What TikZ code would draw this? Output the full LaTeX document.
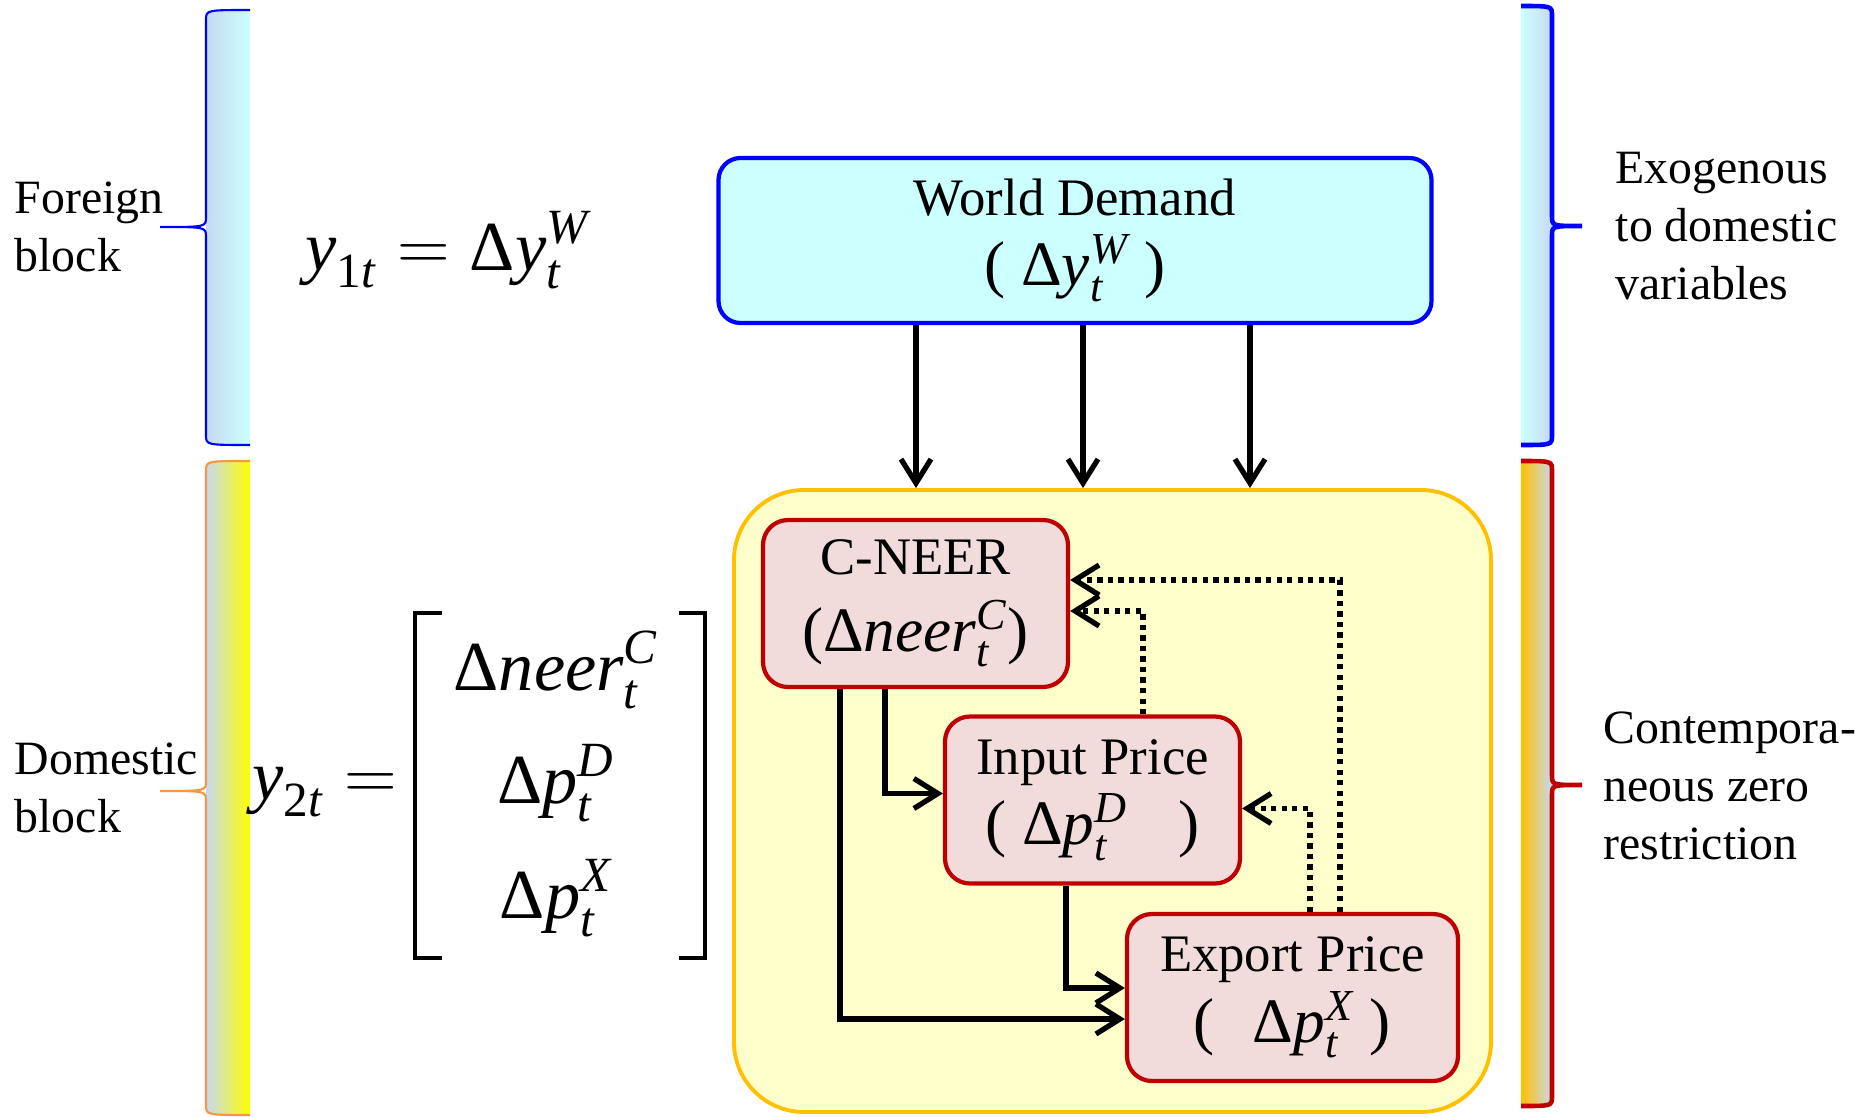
\documentclass[tikz,border=0pt]{standalone}
\usepackage{amsmath}
\usepackage{fontspec}
\setmainfont{Liberation Serif}
\usepackage{xcolor}
\usepackage{tikz}
\usetikzlibrary{arrows.meta}

\definecolor{wdcyan}{HTML}{CCFFFF}
\definecolor{domyellow}{HTML}{FFFFCC}
\definecolor{domorange}{HTML}{FFC000}
\definecolor{varpink}{HTML}{F2DCDB}
\definecolor{varred}{HTML}{C00000}
\definecolor{greyblue}{HTML}{C6D9F1}
\definecolor{braceorange}{HTML}{F79646}

\newcommand{\boxfont}{\fontsize{15}{20}\selectfont}
\newcommand{\mathbig}{\fontsize{18}{20}\selectfont}
\newcommand{\sidefont}{\fontsize{13.6}{16.5}\selectfont}
\newcommand{\eqfont}{\fontsize{20}{25}\selectfont}
\newcommand{\dlt}{\text{Δ}}
\newcommand{\itv}[1]{\textit{#1}}

% strip with a brace along it: xr, xline, xtip, top, tip, bottom, shading, pen
\newcommand{\sidebrace}[8]{%
  \shade[#7] (#1,#4) .. controls (#2,#4) .. (#2,#4-0.1) -- (#2,#6+0.1)
    .. controls (#2,#6) .. (#1,#6) -- cycle;
  \draw[#8] (#1,#4) .. controls (#2,#4) .. (#2,#4-0.1) -- (#2,#5+0.1)
    .. controls (#2,#5) .. (#3,#5) .. controls (#2,#5) .. (#2,#5-0.1)
    -- (#2,#6+0.1) .. controls (#2,#6) .. (#1,#6);
}

\begin{document}
\begin{tikzpicture}[
    wdbox/.style = {draw=blue, line width=1.2pt, fill=wdcyan, rounded corners=0.22cm,
                    minimum width=7.13cm, minimum height=1.65cm, align=center, font=\boxfont},
    varbox/.style = {draw=varred, line width=1.2pt, fill=varpink, rounded corners=0.25cm,
                     minimum height=1.67cm, align=center, font=\boxfont},
    dombox/.style = {draw=domorange, line width=1.1pt, fill=domyellow, rounded corners=0.7cm,
                     minimum width=7.57cm, minimum height=6.22cm},
    arr/.style = {line width=1.5pt, -{Straight Barb[length=2.4mm,width=3mm]}},
    dotarr/.style = {arr, dash pattern=on 1.5pt off 1.5pt},
    sidetext/.style = {align=left, anchor=west, inner sep=0pt, font=\sidefont},
    eqtext/.style = {inner sep=0pt, font=\eqfont},
    bracket/.style = {line width=1pt}
]
    \useasboundingbox (0,0) rectangle (18.64,-11.17);

    % side braces
    \sidebrace{2.50}{2.06}{1.60}{-0.10}{-2.27}{-4.45}{left color=greyblue, right color=wdcyan}{blue, line width=0.6pt}
    \sidebrace{2.50}{2.06}{1.60}{-4.61}{-7.91}{-11.15}{left color=greyblue, right color=yellow}{braceorange, line width=0.6pt}
    \sidebrace{15.21}{15.52}{15.82}{-0.06}{-2.26}{-4.45}{left color=wdcyan, right color=greyblue}{blue, line width=1.3pt}
    \sidebrace{15.21}{15.52}{15.82}{-4.61}{-7.85}{-11.06}{left color=domorange, right color=greyblue}{varred, line width=1.3pt}

    \node[sidetext] (foreign) at (0.14,-2.265) {Foreign\\block};
    \node[sidetext] (domestic) at (0.14,-7.88) {Domestic\\block};
    \node[sidetext] (exog) at (16.15,-2.26) {Exogenous\\to domestic\\variables};
    \node[sidetext] (contemp) at (16.03,-7.86) {Contempora-\\neous zero\\restriction};

    % the two blocks of the VAR
    \node[eqtext, anchor=west] (eqone) at (3.05,-2.50)
        {$\itv{y}_{\text{1}\itv{t}} = \dlt\itv{y}_{\itv{t}}^{\itv{W}}$};
    \node[eqtext, anchor=base west] (eqtwo) at (2.52,-7.99)
        {$\itv{y}_{\text{2}\itv{t}} =$};
    \node[eqtext, anchor=base] (vneer) at (5.56,-6.90) {$\dlt\itv{neer}_{\itv{t}}^{\itv{C}}$};
    \node[eqtext, anchor=base] (vpd) at (5.56,-8.03) {$\dlt\itv{p}_{\itv{t}}^{\itv{D}}$};
    \node[eqtext, anchor=base] (vpx) at (5.56,-9.18) {$\dlt\itv{p}_{\itv{t}}^{\itv{X}}$};
    \draw[bracket] (4.42,-6.13) -- (4.15,-6.13) -- (4.15,-9.58) -- (4.42,-9.58);
    \draw[bracket] (6.79,-6.13) -- (7.05,-6.13) -- (7.05,-9.58) -- (6.79,-9.58);

    % boxes
    \node[dombox] (dom) at (11.125,-8.01) {};
    \node[wdbox] (wd) at (10.75,-2.405)
        {World Demand\\{\mathbig( $\dlt\itv{y}_{\itv{t}}^{\itv{W}}$ )}};
    \node[varbox, minimum width=3.05cm] (cn) at (9.155,-6.035)
        {C-NEER\\[2pt]{\mathbig($\dlt\itv{neer}_{\itv{t}}^{\itv{C}}$)}};
    \node[varbox, minimum width=2.95cm] (ip) at (10.925,-8.0)
        {Input Price\\{\mathbig( $\dlt\itv{p}_{\itv{t}}^{\itv{D}}$\hspace{0.8em})}};
    \node[varbox, minimum width=3.31cm] (xp) at (12.925,-9.975)
        {Export Price\\{\mathbig(\hspace{0.6em}$\dlt\itv{p}_{\itv{t}}^{\itv{X}}$ )}};

    % links
    \foreach \x in {9.16,10.83,12.50}
        \draw[arr] (\x,0 |- wd.south) -- (\x,0 |- dom.north);
    \draw[arr] ([xshift=-7.55mm]cn.south) |- ([yshift=-2.15mm]xp.west);
    \draw[arr] ([xshift=-3.05mm]cn.south) |- ([yshift=0.65mm]ip.west);
    \draw[arr] ([xshift=-2.65mm]ip.south) |- ([yshift=0.95mm]xp.west);
    \draw[dotarr] ([xshift=5.05mm]ip.north) |- ([yshift=-0.75mm]cn.east);
    \draw[dotarr] ([xshift=4.75mm]xp.north) |- ([yshift=2.35mm]cn.east);
    \draw[dotarr] ([xshift=1.75mm]xp.north) |- ([yshift=-0.85mm]ip.east);
\end{tikzpicture}
\end{document}
